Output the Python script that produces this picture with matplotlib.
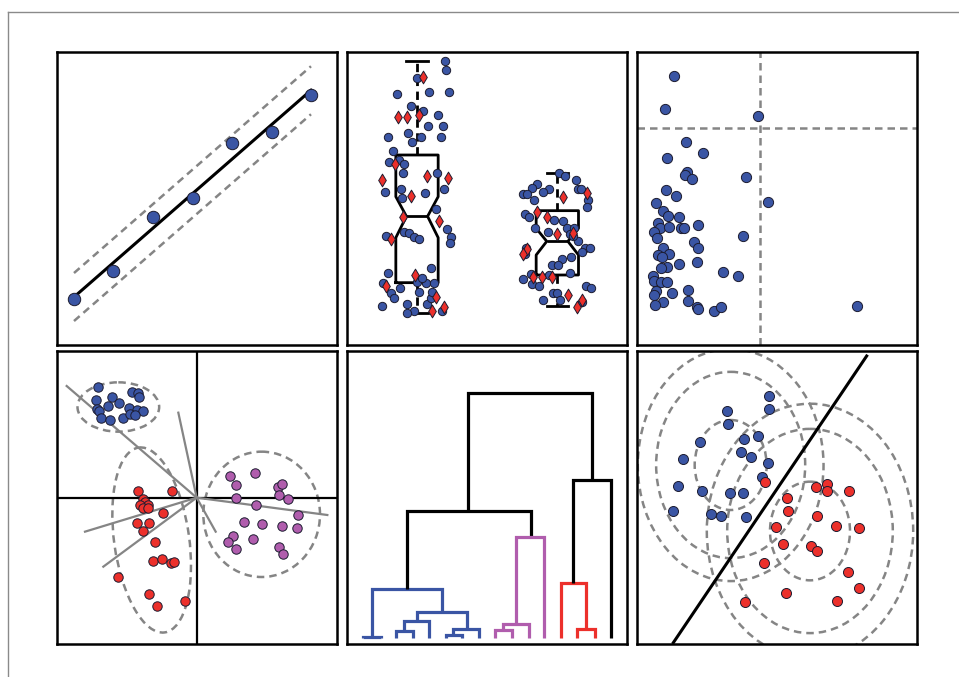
import matplotlib
matplotlib.use("Agg")
import matplotlib.pyplot as plt
from matplotlib.patches import Ellipse
from matplotlib.lines import Line2D
import numpy as np

BLUE = "#3a55a4"
RED = "#ec302b"
PURPLE = "#b05dad"
GRAY = "#858585"
EDGE = "#1c1c30"
DASH = (0, (3.0, 2.0))

# panel 1: straight line fit
reg_x = [72, 190, 310, 428, 545, 665, 783]
reg_y = [763, 678, 515, 460, 295, 260, 150]
reg_band = 72

# panel 2: notched boxes + jittered points
box_pos = [231, 652]
box_stats = [
    dict(med=514, q1=713, q3=330, whislo=803, whishi=47, cilo=578, cihi=455, fliers=[]),
    dict(med=589, q1=690, q3=497, whislo=783, whishi=384, cilo=630, cihi=550, fliers=[]),
]
jit_blue = [(315, 47), (318, 75), (232, 100), (170, 148), (267, 142), (327, 142), (213, 183), (250, 197),
            (295, 210), (265, 243), (308, 243), (145, 277), (205, 265), (242, 277), (302, 277), (217, 290),
            (160, 318), (148, 350), (177, 345), (192, 358), (190, 385), (290, 385), (135, 440), (183, 432),
            (255, 445), (312, 432), (185, 460), (288, 493), (322, 553), (333, 575), (330, 595), (137, 573),
            (193, 560), (208, 563), (222, 575), (237, 582), (272, 668), (143, 683), (130, 715), (180, 730),
            (152, 745), (163, 758), (200, 776), (125, 783), (222, 797), (200, 805), (262, 778), (272, 760),
            (305, 797), (230, 712), (258, 715), (283, 715), (237, 742), (277, 742), (245, 700),
            (658, 385), (675, 393), (590, 418), (575, 428), (548, 447), (562, 447), (583, 465), (628, 432),
            (610, 440), (707, 405), (713, 432), (722, 432), (745, 465), (742, 487), (555, 507), (568, 515),
            (642, 525), (668, 527), (585, 548), (623, 562), (680, 548), (703, 548), (690, 567), (715, 588),
            (698, 573), (735, 608), (750, 608), (727, 622), (558, 610), (555, 628), (693, 635), (665, 643),
            (635, 660), (655, 660), (690, 683), (573, 687), (548, 703), (575, 718), (598, 722), (640, 745),
            (652, 745), (738, 722), (752, 730), (608, 765), (660, 765), (727, 770), (628, 690)]
jit_red = [(250, 95), (175, 215), (200, 215), (238, 210), (165, 358), (125, 405), (262, 393), (323, 398),
           (212, 453), (188, 515), (298, 527), (152, 583), (225, 690), (138, 723), (288, 757), (312, 785),
           (275, 797),
           (742, 445), (668, 455), (590, 500), (622, 515), (652, 568), (700, 565), (562, 613), (548, 628),
           (578, 695), (607, 697), (637, 697), (683, 750), (727, 765), (712, 785)]

# panel 3: skewed scatter with thresholds
skew_pts = [(133, 93), (105, 192), (385, 212), (167, 292), (220, 325), (110, 340), (172, 382), (165, 390),
            (185, 402), (348, 397), (107, 435), (137, 453), (413, 470), (77, 475), (98, 497), (113, 512),
            (147, 515), (83, 535), (90, 548), (117, 545), (72, 560), (152, 548), (163, 550), (205, 540),
            (80, 580), (338, 573), (192, 590), (205, 610), (98, 610), (83, 630), (117, 628), (95, 637),
            (110, 665), (93, 670), (148, 658), (200, 652), (280, 682), (323, 693), (70, 693), (72, 707),
            (93, 712), (112, 712), (78, 738), (73, 750), (125, 745), (173, 735), (100, 770), (173, 767),
            (75, 780), (202, 785), (203, 792), (253, 797), (272, 785), (682, 783)]
skew_vline = 390
skew_hline = 250

# panel 4: biplot
pca_blue = [(145, 127), (245, 140), (265, 145), (268, 157), (137, 165), (185, 157), (208, 175), (175, 182),
            (238, 190), (140, 193), (148, 197), (260, 195), (278, 197), (153, 220), (180, 225), (218, 220),
            (240, 207), (255, 210)]
pca_red = [(265, 437), (367, 437), (280, 462), (285, 470), (293, 480), (270, 480), (280, 490), (295, 490),
           (340, 505), (262, 535), (298, 535), (278, 557), (315, 592), (308, 647), (335, 642), (362, 655),
           (372, 652), (203, 695), (297, 747), (320, 782), (405, 768)]
pca_purple = [(540, 393), (558, 420), (615, 383), (683, 427), (697, 418), (688, 450), (713, 462), (557, 458),
              (617, 480), (743, 510), (583, 530), (635, 537), (695, 543), (742, 549), (548, 572), (533, 590),
              (608, 583), (558, 613), (687, 605), (698, 628)]
pca_origin = (440, 458)
pca_loadings = [(50, 123), (385, 203), (105, 560), (160, 665), (497, 560), (832, 510)]
# (cx, cy, width, height, angle)
pca_ellipses = [(205, 186, 245, 148, 0), (305, 585, 225, 560, -8), (635, 508, 350, 376, 0)]

# panel 5: dendrogram links
den_icoord = [[68, 68, 122, 122], [168, 168, 218, 218], [192, 192, 268, 268], [318, 318, 365, 365],
              [340, 340, 418, 418], [230, 230, 380, 380], [95, 95, 305, 305], [200, 200, 572, 572],
              [465, 465, 515, 515], [490, 490, 567, 567], [527, 527, 613, 613], [712, 712, 765, 765],
              [662, 662, 738, 738], [700, 700, 812, 812], [385, 385, 757, 757]]
den_dcoord = [[878, 876, 876, 878], [878, 857, 857, 878], [857, 828, 828, 878], [878, 870, 870, 878],
              [870, 852, 852, 878], [828, 800, 800, 852], [876, 733, 733, 800], [733, 497, 497, 577],
              [878, 855, 855, 878], [855, 838, 838, 878], [838, 577, 577, 878], [878, 852, 852, 878],
              [878, 715, 715, 852], [715, 405, 405, 878], [497, 145, 145, 405]]
den_colors = ["b"] * 7 + ["k"] + ["p"] * 3 + ["r"] * 2 + ["k"] * 2

# panel 6: two gaussian classes with a boundary
cls_blue = [(418, 152), (417, 192), (290, 197), (293, 238), (210, 292), (343, 283), (385, 273), (160, 342),
            (333, 322), (363, 335), (415, 355), (145, 423), (215, 437), (300, 445), (340, 445), (395, 397),
            (128, 497), (242, 508), (272, 512), (348, 515)]
cls_red = [(405, 410), (557, 427), (590, 417), (592, 437), (657, 437), (470, 460), (475, 497), (562, 512),
           (618, 542), (688, 550), (437, 547), (460, 597), (543, 602), (562, 617), (403, 655), (655, 680),
           (687, 728), (468, 745), (620, 768), (345, 770)]
cls_centers = [(302, 360), (540, 558)]
cls_half = [(108, 135), (120, 148)]
cls_scales = [1.0, 2.07, 2.58]
boundary_x = [130, 710]
boundary_y = [893, 33]

col_map = {"b": BLUE, "r": RED, "p": PURPLE, "k": "black"}

W, H = 959, 677
fig = plt.figure(figsize=(W / 100, H / 100), dpi=100)
fig.add_artist(Line2D([8 / W, 8 / W], [0, 1 - 12 / H], color="#8a8a8a", lw=1.0))
fig.add_artist(Line2D([8 / W, 1], [1 - 12 / H, 1 - 12 / H], color="#8a8a8a", lw=1.0))


def panel(col, row):
    left = [57, 347, 637][col]
    top = [52, 351][row]
    ax = fig.add_axes([left / W, 1 - (top + 293) / H, 280 / W, 293 / H])
    ax.set_xlim(21, 861)
    if row == 0:
        ax.set_ylim(900, 21)
    else:
        ax.set_ylim(897, 18)
    ax.set_xticks([])
    ax.set_yticks([])
    for s in ax.spines.values():
        s.set_linewidth(1.8)
    return ax


def dots(ax, pts, color, s, marker="o"):
    pts = np.array(pts)
    ax.scatter(pts[:, 0], pts[:, 1], s=s, c=color, marker=marker, edgecolors=EDGE, linewidths=0.7, zorder=3)


# 1
ax = panel(0, 0)
slope, icpt = np.polyfit(reg_x, reg_y, 1)
xx = np.array([min(reg_x), max(reg_x)])
ax.plot(xx, slope * xx + icpt, color="k", lw=2.2, zorder=2)
ax.plot(xx, slope * xx + icpt - reg_band, color=GRAY, lw=1.8, ls=DASH)
ax.plot(xx, slope * xx + icpt + reg_band, color=GRAY, lw=1.8, ls=DASH)
dots(ax, list(zip(reg_x, reg_y)), BLUE, 80)

# 2
ax = panel(1, 0)
ax.bxp(box_stats, positions=box_pos, widths=127, shownotches=True, showfliers=False,
       boxprops=dict(color="k", lw=2), whiskerprops=dict(color="k", lw=2, ls=DASH),
       capprops=dict(color="k", lw=2), medianprops=dict(color="k", lw=2), manage_ticks=False)
dots(ax, jit_blue, BLUE, 36)
dots(ax, jit_red, RED, 42, marker="d")

# 3
ax = panel(2, 0)
ax.axvline(skew_vline, color=GRAY, lw=1.8, ls=DASH)
ax.axhline(skew_hline, color=GRAY, lw=1.8, ls=DASH)
dots(ax, skew_pts, BLUE, 54)

# 4
ax = panel(0, 1)
ax.axvline(pca_origin[0], color="k", lw=1.6)
ax.axhline(pca_origin[1], color="k", lw=1.6)
for ex, ey in pca_loadings:
    ax.plot([pca_origin[0], ex], [pca_origin[1], ey], color=GRAY, lw=1.6, zorder=2)
for cx, cy, w, h, a in pca_ellipses:
    ax.add_patch(Ellipse((cx, cy), w, h, angle=a, fill=False, ec=GRAY, lw=1.8, ls=DASH))
dots(ax, pca_blue, BLUE, 46)
dots(ax, pca_red, RED, 46)
dots(ax, pca_purple, PURPLE, 46)

# 5
ax = panel(1, 1)
for xs, ys, c in zip(den_icoord, den_dcoord, den_colors):
    ax.plot(xs, ys, color=col_map[c], lw=2.3, solid_joinstyle="miter", solid_capstyle="butt")

# 6
ax = panel(2, 1)
for (cx, cy), (hw, hh) in zip(cls_centers, cls_half):
    for k in cls_scales:
        ax.add_patch(Ellipse((cx, cy), 2 * hw * k, 2 * hh * k, fill=False, ec=GRAY, lw=1.8, ls=DASH))
ax.plot(boundary_x, boundary_y, color="k", lw=2.2, zorder=2)
dots(ax, cls_blue, BLUE, 52)
dots(ax, cls_red, RED, 52)

fig.savefig("out.png", dpi=100)
